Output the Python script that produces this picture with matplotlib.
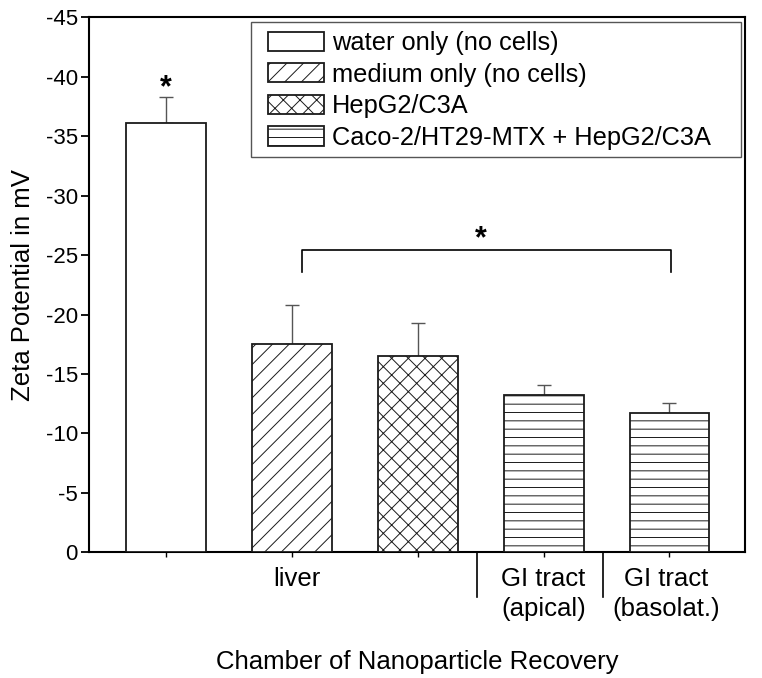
import matplotlib
matplotlib.use("Agg")
import matplotlib.pyplot as plt
from matplotlib.patches import Rectangle

plt.rcParams['font.family'] = ['Liberation Sans', 'DejaVu Sans']
plt.rcParams['axes.unicode_minus'] = False
plt.rcParams['hatch.linewidth'] = 0.7

# ---- data ----
series_labels = ["water only (no cells)", "medium only (no cells)", "HepG2/C3A",
                 "Caco-2/HT29-MTX + HepG2/C3A", "Caco-2/HT29-MTX + HepG2/C3A"]
zeta_values = [-36.1, -17.5, -16.5, -13.2, -11.7]
zeta_errors = [2.2, 3.3, 2.75, 0.9, 0.85]
hatches = ["", "//", "xx", "--", "--"]
group_labels = ["liver", "GI tract\n(apical)", "GI tract\n(basolat.)"]
group_label_pos = [2.04, 4.0, 4.97]
separator_pos = [3.47, 4.47]
y_ticks = [0, -5, -10, -15, -20, -25, -30, -35, -40, -45]

positions = list(range(1, len(zeta_values) + 1))

W, H = 762, 678
fig = plt.figure(figsize=(W / 100, H / 100), dpi=100)
ax = fig.add_axes([89/W, 1 - 552.3/H, (745 - 89)/W, (552.3 - 17.3)/H])

seen = set()
for x, v, h, lab in zip(positions, zeta_values, hatches, series_labels):
    label = lab if lab not in seen else None
    seen.add(lab)
    ax.bar(x, v, width=0.635, color="white", edgecolor="#1a1a1a",
           linewidth=1.3, hatch=h, label=label, zorder=3)

zeros = [0] * len(zeta_errors)
ax.errorbar(positions, zeta_values, yerr=[zeta_errors, zeros], fmt="none",
            ecolor="#555555", elinewidth=1.0, capsize=5, capthick=1.0, zorder=2)

ax.set_xlim(0.388, 5.6)
ax.set_ylim(0, -45)
ax.set_yticks(y_ticks)
ax.set_yticklabels([str(t) for t in y_ticks])
ax.set_xticks(positions)
ax.set_xticklabels([])

for s in ax.spines.values():
    s.set_linewidth(1.5)
ax.tick_params(axis='y', direction='out', length=6, width=1.3, labelsize=16, pad=2)
ax.tick_params(axis='x', direction='out', length=3.5, width=1.0)

# group labels under the axis
for lab, x in zip(group_labels, group_label_pos):
    ax.text(x, -0.028, lab, transform=ax.get_xaxis_transform(), ha="center",
            va="top", fontsize=18.5, linespacing=1.3)

trans = ax.get_xaxis_transform()
for x in separator_pos:
    ax.plot([x, x], [0, -0.084], transform=trans, color="black", lw=1.2,
            clip_on=False)

ax.set_xlabel("Chamber of Nanoparticle Recovery", fontsize=18.5, labelpad=63)
ax.set_ylabel("Zeta Potential in mV", fontsize=18.5, labelpad=8)

# significance markers
ax.text(1.0, -39.0, "*", ha="center", va="center", fontsize=22, fontweight="bold")
ax.plot([2.08, 2.08, 5.01, 5.01], [-23.6, -25.4, -25.4, -23.6], color="black", lw=1.2)
ax.text(3.5, -26.3, "*", ha="center", va="center", fontsize=22, fontweight="bold")

# legend (frame drawn separately)
frame = Rectangle((251/W, 1 - 156.7/H), (741 - 251)/W, (156.7 - 22.3)/H,
                  transform=fig.transFigure, fill=True, facecolor="white",
                  edgecolor="#555555", linewidth=1.0, zorder=4, clip_on=False)
ax.add_patch(frame)
leg = ax.legend(loc="upper left", bbox_to_anchor=(268/W, 1 - 31/H),
                bbox_transform=fig.transFigure, fontsize=18.3, frameon=False,
                handlelength=2.2, handleheight=0.78, handletextpad=0.3,
                labelspacing=0.3, borderpad=0, borderaxespad=0)
leg.set_zorder(6)

fig.savefig("out.png", dpi=100)
